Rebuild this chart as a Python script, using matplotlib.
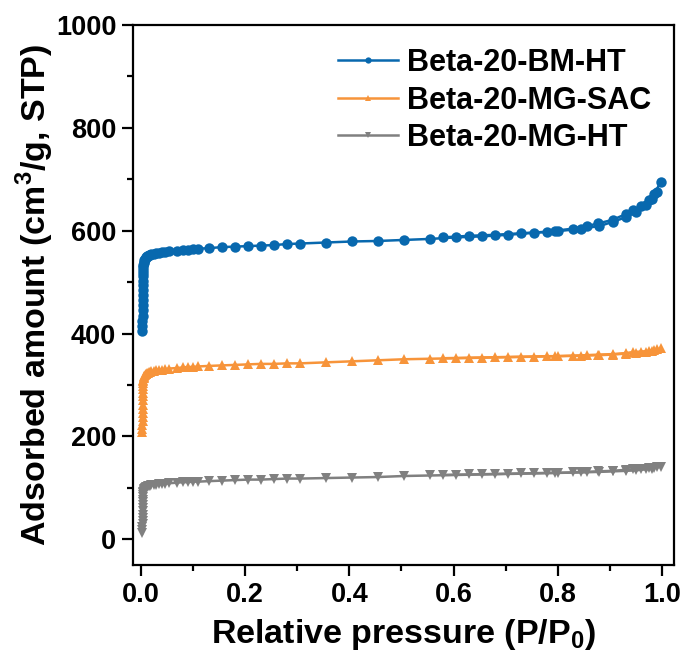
import matplotlib
matplotlib.use("Agg")
import matplotlib.pyplot as plt
from matplotlib.ticker import MultipleLocator

plt.rcParams['font.family'] = ['Liberation Sans', 'DejaVu Sans']
plt.rcParams['font.weight'] = 'bold'
plt.rcParams['mathtext.fontset'] = 'custom'
plt.rcParams['mathtext.rm'] = 'Liberation Sans:bold'
plt.rcParams['mathtext.bf'] = 'Liberation Sans:bold'

# Adsorption branch relative pressures
p_ads = [0.0030, 0.0031, 0.0032, 0.0033, 0.0034, 0.0035, 0.0036, 0.0037, 0.0038,
         0.0039, 0.0040, 0.0042, 0.0044, 0.0046, 0.0048, 0.0050, 0.0055, 0.006,
         0.007, 0.008, 0.009, 0.010, 0.012, 0.014, 0.016, 0.018, 0.02, 0.025,
         0.03, 0.035, 0.04, 0.047, 0.055, 0.07, 0.08, 0.09, 0.1, 0.11,
         0.13, 0.155, 0.18, 0.205, 0.23, 0.255, 0.28, 0.305, 0.355, 0.405, 0.455,
         0.505, 0.555, 0.605, 0.655, 0.705, 0.755, 0.80, 0.845, 0.88, 0.905,
         0.93, 0.95, 0.97, 0.98, 0.99]
# Desorption branch relative pressures
p_des = [0.998, 0.985, 0.975, 0.96, 0.945, 0.93, 0.905, 0.877, 0.856, 0.83,
         0.795, 0.78, 0.73, 0.68, 0.63, 0.58]

bm_ht_ads = [405, 415, 425, 435, 445, 455, 465, 475, 485,
             494, 503, 511, 518, 524, 529, 533, 537, 540,
             543, 545, 547, 548, 550, 551, 552, 553, 554, 555,
             556, 557, 558, 559, 560, 561, 562, 563, 564, 565,
             566, 568, 569, 570, 571, 572, 574, 575, 577, 579, 580,
             582, 584, 587, 589, 592, 596, 599, 604, 609, 617,
             626, 636, 650, 662, 676]
bm_ht_des = [695, 672, 660, 648, 640, 632, 621, 614, 609, 604,
             600, 598, 595, 592, 590, 587]

mg_sac_ads = [208, 215, 222, 230, 238, 246, 254, 262, 270,
              278, 285, 292, 298, 303, 307, 310, 313, 316,
              318, 320, 321, 322, 323, 324, 325, 326, 327, 328,
              329, 330, 330, 331, 332, 333, 334, 335, 335, 336,
              337, 338, 339, 340, 341, 341, 342, 342, 344, 346, 348,
              350, 351, 352, 353, 354, 355, 356, 357, 358, 359,
              361, 363, 365, 367, 370]
mg_sac_des = [371, 368, 366, 365, 364, 362, 360, 359, 358, 357,
              356, 356, 355, 354, 353, 352]

mg_ht_ads = [12, 18, 24, 30, 36, 42, 48, 54, 60,
             66, 72, 77, 82, 86, 89, 92, 94, 96,
             98, 99, 100, 101, 102, 103, 104, 104, 105, 106,
             106, 107, 107, 108, 109, 110, 111, 111, 112, 112,
             113, 114, 115, 116, 116, 117, 118, 118, 119, 120, 121,
             123, 124, 125, 126, 127, 128, 129, 130, 131, 132,
             133, 134, 136, 137, 140]
mg_ht_des = [141, 139, 138, 137, 136, 135, 133, 132, 131, 130,
             129, 129, 128, 127, 126, 125]

labels = ['Beta-20-BM-HT', 'Beta-20-MG-SAC', 'Beta-20-MG-HT']
colors = ['#0868ae', '#f7943a', '#808080']
markers = ['o', '^', 'v']

fig = plt.figure(figsize=(6.87, 6.66), dpi=100)
ax = fig.add_axes([0.1936, 0.1517, 0.7875, 0.8108])

series = [(bm_ht_ads, bm_ht_des), (mg_sac_ads, mg_sac_des), (mg_ht_ads, mg_ht_des)]
for (ads, des), lab, c, m in zip(series, labels, colors, markers):
    ax.plot(p_ads, ads, color=c, marker=m, markersize=7.5, lw=1.8, label=lab,
            markeredgewidth=0)
    ax.plot(p_des, des, color=c, marker=m, markersize=7.5, lw=1.8,
            markeredgewidth=0)

ax.set_xlim(-0.015, 1.023)
ax.set_ylim(-50, 1000)
ax.xaxis.set_minor_locator(MultipleLocator(0.1))
ax.yaxis.set_minor_locator(MultipleLocator(100))
ax.set_xticks([0, 0.2, 0.4, 0.6, 0.8, 1.0])
ax.set_xticklabels(['0.0', '0.2', '0.4', '0.6', '0.8', '1.0'])
ax.set_yticks([0, 200, 400, 600, 800, 1000])

ax.tick_params(which='major', direction='out', length=8, width=1.6,
               labelsize=19.5, top=False, right=False, pad=4)
ax.tick_params(which='minor', direction='out', length=4, width=1.6,
               top=False, right=False)
for s in ax.spines.values():
    s.set_linewidth(1.6)

ax.set_xlabel(r'Relative pressure (P/P$_0$)', fontsize=24.5, fontweight='bold', labelpad=7)
ax.set_ylabel(r'Adsorbed amount (cm$^3$/g, STP)', fontsize=24.5, fontweight='bold', labelpad=0)

leg = ax.legend(loc='upper right', frameon=False, fontsize=22, handlelength=1.95,
                markerscale=0.6, labelspacing=0.25, borderaxespad=0.35,
                handletextpad=0.3, borderpad=0.4)

fig.savefig('out.png', dpi=100)
